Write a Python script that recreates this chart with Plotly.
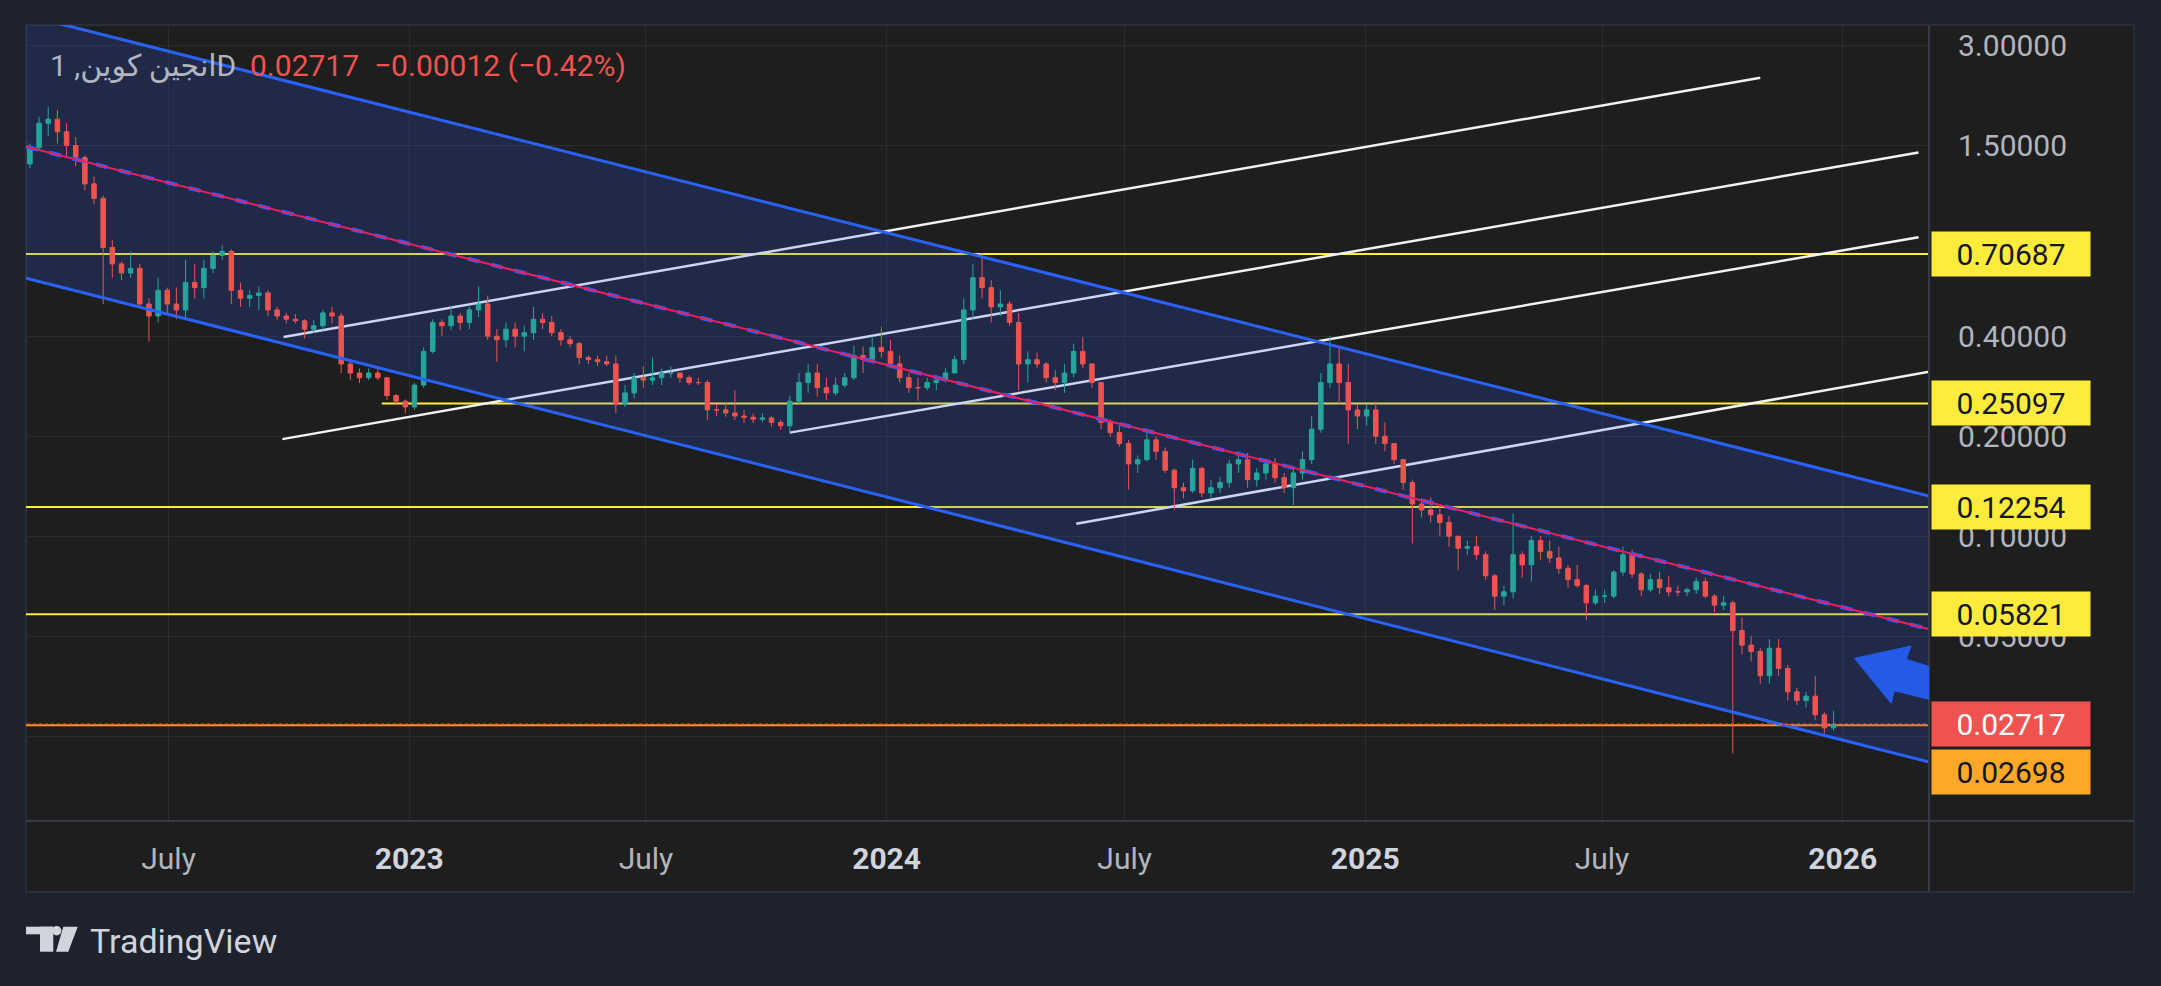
import numpy as np
import pandas as pd
import plotly.graph_objects as go

# weekly candles (ENJ, Mar 2022 - Dec 2025)
opens = [
    1.32, 1.48, 1.75, 1.80, 1.65, 1.50, 1.38, 1.15, 1.04, 0.74, 0.66, 0.62, 0.64, 0.50, 0.46, 0.55, 0.50, 0.48, 0.58, 0.56, 0.64,
    0.70, 0.72, 0.55, 0.52, 0.53, 0.54, 0.48, 0.46, 0.45, 0.445, 0.42, 0.43, 0.47, 0.46, 0.33, 0.31, 0.30, 0.31, 0.30, 0.265, 0.255,
    # 2023
    0.245, 0.285, 0.36, 0.44, 0.43, 0.46, 0.44, 0.48, 0.50, 0.40, 0.39, 0.42, 0.40, 0.41, 0.45, 0.44, 0.41, 0.39, 0.38, 0.345,
    0.34, 0.335, 0.33, 0.25, 0.27, 0.30, 0.295, 0.30, 0.31, 0.31, 0.30, 0.29, 0.29, 0.24, 0.24, 0.235, 0.23, 0.228, 0.225, 0.227,
    0.22, 0.215, 0.255, 0.29, 0.31, 0.28, 0.27, 0.285, 0.30, 0.35, 0.34, 0.37,
    # 2024
    0.36, 0.33, 0.30, 0.28, 0.28, 0.29, 0.295, 0.31, 0.34, 0.48, 0.60, 0.56, 0.49, 0.50, 0.44, 0.33, 0.34, 0.33, 0.30, 0.29,
    0.31, 0.36, 0.33, 0.29, 0.22, 0.205, 0.19, 0.165, 0.17, 0.195, 0.18, 0.158, 0.14, 0.137, 0.16, 0.135, 0.14, 0.145, 0.165, 0.17,
    0.148, 0.155, 0.165, 0.15, 0.14, 0.155, 0.17, 0.21, 0.29, 0.33, 0.29, 0.24, 0.23,
    # 2025
    0.24, 0.20, 0.19, 0.17, 0.145, 0.125, 0.12, 0.116, 0.11, 0.10, 0.092, 0.093, 0.088, 0.076, 0.066, 0.068, 0.088, 0.082, 0.097, 0.09,
    0.086, 0.08, 0.074, 0.071, 0.063, 0.066, 0.066, 0.078, 0.088, 0.077, 0.069, 0.074, 0.07, 0.068, 0.068, 0.069, 0.073, 0.066, 0.062, 0.063,
    0.052, 0.047, 0.045, 0.038, 0.046, 0.04, 0.034, 0.032, 0.033, 0.029, 0.0265,
]
highs = [
    1.52, 1.83, 1.96, 1.92, 1.75, 1.59, 1.40, 1.21, 1.06, 0.78, 0.67, 0.72, 0.66, 0.52, 0.60, 0.56, 0.56, 0.68, 0.66, 0.68, 0.72,
    0.75, 0.73, 0.58, 0.55, 0.565, 0.55, 0.49, 0.47, 0.467, 0.45, 0.447, 0.48, 0.49, 0.47, 0.335, 0.32, 0.32, 0.318, 0.30, 0.268, 0.258,
    0.29, 0.37, 0.45, 0.45, 0.49, 0.47, 0.49, 0.564, 0.53, 0.42, 0.44, 0.44, 0.43, 0.49, 0.47, 0.46, 0.42, 0.40, 0.385, 0.35,
    0.35, 0.35, 0.35, 0.285, 0.31, 0.325, 0.345, 0.32, 0.325, 0.31, 0.305, 0.30, 0.295, 0.25, 0.252, 0.275, 0.24, 0.234, 0.235, 0.23,
    0.224, 0.265, 0.31, 0.33, 0.33, 0.30, 0.30, 0.31, 0.375, 0.372, 0.40, 0.427,
    0.39, 0.35, 0.31, 0.30, 0.30, 0.305, 0.32, 0.35, 0.52, 0.66, 0.71, 0.59, 0.55, 0.51, 0.47, 0.36, 0.357, 0.335, 0.316, 0.33,
    0.38, 0.397, 0.33, 0.29, 0.225, 0.215, 0.195, 0.175, 0.205, 0.20, 0.185, 0.16, 0.145, 0.17, 0.162, 0.148, 0.151, 0.17, 0.18, 0.178,
    0.16, 0.17, 0.172, 0.155, 0.16, 0.18, 0.23, 0.31, 0.40, 0.37, 0.33, 0.25, 0.25,
    0.254, 0.22, 0.19, 0.17, 0.148, 0.13, 0.131, 0.125, 0.115, 0.10, 0.097, 0.10, 0.09, 0.077, 0.071, 0.117, 0.09, 0.10, 0.10, 0.097,
    0.093, 0.082, 0.082, 0.072, 0.069, 0.069, 0.079, 0.093, 0.091, 0.078, 0.077, 0.078, 0.076, 0.071, 0.07, 0.075, 0.075, 0.067, 0.066, 0.064,
    0.057, 0.05, 0.046, 0.049, 0.049, 0.041, 0.035, 0.034, 0.038, 0.0295, 0.0298,
]
lows = [
    1.28, 1.45, 1.60, 1.52, 1.38, 1.30, 1.10, 1.00, 0.50, 0.60, 0.59, 0.60, 0.49, 0.385, 0.44, 0.47, 0.45, 0.45, 0.52, 0.52, 0.62,
    0.68, 0.50, 0.49, 0.49, 0.48, 0.46, 0.447, 0.437, 0.437, 0.394, 0.41, 0.417, 0.437, 0.31, 0.295, 0.289, 0.295, 0.295, 0.257, 0.248, 0.234,
    0.24, 0.28, 0.355, 0.40, 0.417, 0.417, 0.42, 0.457, 0.39, 0.335, 0.37, 0.37, 0.36, 0.39, 0.42, 0.40, 0.375, 0.37, 0.33, 0.33,
    0.325, 0.325, 0.235, 0.245, 0.26, 0.28, 0.285, 0.285, 0.30, 0.29, 0.285, 0.285, 0.224, 0.23, 0.229, 0.224, 0.219, 0.219, 0.22, 0.214,
    0.209, 0.204, 0.25, 0.27, 0.263, 0.257, 0.265, 0.28, 0.295, 0.31, 0.335, 0.345,
    0.32, 0.29, 0.27, 0.256, 0.275, 0.275, 0.29, 0.31, 0.33, 0.45, 0.52, 0.44, 0.46, 0.43, 0.275, 0.29, 0.32, 0.29, 0.275, 0.27,
    0.30, 0.32, 0.28, 0.21, 0.199, 0.186, 0.138, 0.155, 0.168, 0.17, 0.155, 0.12, 0.13, 0.135, 0.131, 0.13, 0.135, 0.14, 0.155, 0.14,
    0.141, 0.148, 0.145, 0.135, 0.124, 0.148, 0.165, 0.205, 0.28, 0.25, 0.19, 0.21, 0.215,
    0.19, 0.18, 0.165, 0.138, 0.095, 0.114, 0.11, 0.10, 0.093, 0.079, 0.088, 0.085, 0.074, 0.06, 0.062, 0.065, 0.075, 0.073, 0.085, 0.083,
    0.077, 0.07, 0.07, 0.056, 0.062, 0.063, 0.065, 0.076, 0.075, 0.066, 0.068, 0.067, 0.066, 0.066, 0.066, 0.067, 0.065, 0.059, 0.06, 0.0222,
    0.044, 0.042, 0.036, 0.036, 0.038, 0.032, 0.031, 0.0305, 0.028, 0.0255, 0.026,
]
closes = [
    1.48, 1.75, 1.80, 1.65, 1.50, 1.38, 1.15, 1.04, 0.74, 0.66, 0.62, 0.64, 0.50, 0.46, 0.55, 0.50, 0.48, 0.58, 0.56, 0.64, 0.70,
    0.72, 0.55, 0.52, 0.53, 0.54, 0.48, 0.46, 0.45, 0.445, 0.42, 0.43, 0.47, 0.46, 0.33, 0.31, 0.30, 0.31, 0.30, 0.265, 0.255, 0.245,
    0.285, 0.36, 0.44, 0.43, 0.46, 0.44, 0.48, 0.50, 0.40, 0.39, 0.42, 0.40, 0.41, 0.45, 0.44, 0.41, 0.39, 0.38, 0.345, 0.34,
    0.335, 0.33, 0.25, 0.27, 0.30, 0.295, 0.30, 0.31, 0.31, 0.30, 0.29, 0.29, 0.24, 0.24, 0.235, 0.23, 0.228, 0.225, 0.227, 0.22,
    0.215, 0.255, 0.29, 0.31, 0.28, 0.27, 0.285, 0.30, 0.35, 0.34, 0.37, 0.36,
    0.33, 0.30, 0.28, 0.28, 0.29, 0.295, 0.31, 0.34, 0.48, 0.60, 0.56, 0.49, 0.50, 0.44, 0.33, 0.34, 0.33, 0.30, 0.29, 0.31,
    0.36, 0.33, 0.29, 0.22, 0.205, 0.19, 0.165, 0.17, 0.195, 0.18, 0.158, 0.14, 0.137, 0.16, 0.135, 0.14, 0.145, 0.165, 0.17, 0.148,
    0.155, 0.165, 0.15, 0.14, 0.155, 0.17, 0.21, 0.29, 0.33, 0.29, 0.24, 0.23, 0.24,
    0.20, 0.19, 0.17, 0.145, 0.125, 0.12, 0.116, 0.11, 0.10, 0.092, 0.093, 0.088, 0.076, 0.066, 0.068, 0.088, 0.082, 0.097, 0.09, 0.086,
    0.08, 0.074, 0.071, 0.063, 0.066, 0.066, 0.078, 0.088, 0.077, 0.069, 0.074, 0.07, 0.068, 0.068, 0.069, 0.073, 0.066, 0.062, 0.063, 0.052,
    0.047, 0.045, 0.038, 0.046, 0.04, 0.034, 0.032, 0.033, 0.029, 0.0265, 0.02717,
]
weeks = pd.date_range("2022-03-17", periods=len(closes), freq="7D")

# drawings on the chart
channel_dates = ["2022-03-14", "2026-03-09"]
channel_upper = [3.70, 0.1318]
channel_lower = [0.598, 0.02086]
channel_mid = [1.488, 0.0524]

white_starts = ["2022-09-27", "2022-09-26", "2023-10-19", "2024-05-25"]
white_ends = ["2025-10-30", "2026-02-28", "2026-02-28", "2026-03-09"]
white_start_prices = [0.398, 0.196, 0.205, 0.109]
white_end_prices = [2.40, 1.43, 0.794, 0.313]

level_prices = [0.70687, 0.25097, 0.12254, 0.05821]
level_starts = ["2022-03-01", "2022-12-11", "2022-03-01", "2022-03-01"]
level_end = "2026-03-31"
support_price = 0.02698
last_price = 0.02717

tag_values = [0.70687, 0.25097, 0.12254, 0.05821, 0.02717, 0.02698]
tag_colors = ["#ffeb3b", "#ffeb3b", "#ffeb3b", "#ffeb3b", "#ef5350", "#ffa726"]
tag_text_colors = ["#131722", "#131722", "#131722", "#131722", "#ffffff", "#131722"]
tag_shifts = [0, 0, 0, 0, 0, -47]

y_ticks = [3, 1.5, 0.4, 0.2, 0.1, 0.05, 0.025]
y_labels = ["3.00000", "1.50000", "0.40000", "0.20000", "0.10000", "0.05000", ""]
x_ticks = ["2022-07-01", "2023-01-01", "2023-07-01", "2024-01-01", "2024-07-01", "2025-01-01", "2025-07-01", "2026-01-01"]
x_labels = ["July", "2023", "July", "2024", "July", "2025", "July", "2026"]

arrow_tip_date = "2026-01-10"
arrow_tip_price = 0.0429

W, H = 2161, 986
L, R, T, B = 26, 1929, 25, 821


def px(xp):
    return (xp - L) / (R - L)


def py(yp):
    return (B - yp) / (B - T)


shapes = [
    # chart panel and separators
    dict(type="rect", xref="paper", yref="paper", x0=0, x1=px(2134), y0=py(892), y1=1,
         fillcolor="#1e1e1e", line=dict(color="#2a2e39", width=2), layer="below"),
    dict(type="line", xref="paper", yref="paper", x0=0, x1=px(2134), y0=0, y1=0,
         line=dict(color="#363a45", width=2)),
    dict(type="line", xref="paper", yref="paper", x0=1, x1=1, y0=py(892), y1=1,
         line=dict(color="#363a45", width=2)),
]

# horizontal levels and the rising parallel lines sit under the channel fill
for p, s in zip(level_prices, level_starts):
    shapes.append(dict(type="line", xref="x", yref="y", x0=s, x1=level_end, y0=p, y1=p,
                       line=dict(color="#ffeb3b", width=2), layer="between"))
shapes.append(dict(type="line", xref="x", yref="y", x0="2022-03-01", x1=level_end,
                   y0=support_price, y1=support_price, line=dict(color="#ff9800", width=2), layer="between"))
for s, e, p0, p1 in zip(white_starts, white_ends, white_start_prices, white_end_prices):
    shapes.append(dict(type="line", xref="x", yref="y", x0=s, x1=e, y0=p0, y1=p1,
                       line=dict(color="#f2f2f2", width=2.5), layer="between"))

# falling channel fill
d0, d1 = channel_dates
shapes.append(dict(type="path", xref="x", yref="y", layer="between",
                   path=f"M{d0},{channel_lower[0]} L{d1},{channel_lower[1]} L{d1},{channel_upper[1]} L{d0},{channel_upper[0]} Z",
                   fillcolor="rgba(41,98,255,0.19)", line=dict(width=0)))

# blue arrow pointing back to the channel middle
shapes.append(dict(type="path", xref="x", yref="y", xsizemode="pixel", ysizemode="pixel",
                   xanchor=arrow_tip_date, yanchor=arrow_tip_price,
                   path="M0,0 L56.7,12.3 L51.7,-1.0 L110,-19 L110,-50 L40,-32.4 L36.7,-45 Z",
                   fillcolor="#245ae6", line=dict(color="#245ae6", width=1)))

# TradingView logo
shapes += [
    dict(type="rect", xref="paper", yref="paper", x0=px(26), x1=px(53.3), y0=py(934.3), y1=py(926.7),
         fillcolor="#d1d4dc", line=dict(width=0)),
    dict(type="rect", xref="paper", yref="paper", x0=px(40), x1=px(53.3), y0=py(951.7), y1=py(926.7),
         fillcolor="#d1d4dc", line=dict(width=0)),
    dict(type="circle", xref="paper", yref="paper", x0=px(52), x1=px(61.4), y0=py(935.4), y1=py(926),
         fillcolor="#d1d4dc", line=dict(width=0)),
    dict(type="path", xref="paper", yref="paper",
         path=f"M{px(63.3)},{py(926.7)} L{px(77.7)},{py(926.7)} L{px(68.3)},{py(951.7)} L{px(56)},{py(951.7)} Z",
         fillcolor="#d1d4dc", line=dict(width=0)),
]

fig = go.Figure()

fig.add_trace(go.Candlestick(
    x=weeks, open=opens, high=highs, low=lows, close=closes,
    increasing=dict(line=dict(color="#26a69a", width=1), fillcolor="#26a69a"),
    decreasing=dict(line=dict(color="#ef5350", width=1), fillcolor="#ef5350"),
    whiskerwidth=0, hoverinfo="skip"))

fig.add_trace(go.Scatter(x=channel_dates, y=channel_lower, mode="lines",
                         line=dict(color="#2962ff", width=3), hoverinfo="skip"))
fig.add_trace(go.Scatter(x=channel_dates, y=channel_upper, mode="lines",
                         line=dict(color="#2962ff", width=3), hoverinfo="skip"))
fig.add_trace(go.Scatter(x=channel_dates, y=channel_mid, mode="lines",
                         line=dict(color="#2962ff", width=4, dash="dash"), hoverinfo="skip"))
fig.add_trace(go.Scatter(x=channel_dates, y=channel_mid, mode="lines",
                         line=dict(color="#e91e63", width=2), hoverinfo="skip"))
fig.add_trace(go.Scatter(x=["2022-03-01", level_end], y=[last_price, last_price], mode="lines",
                         line=dict(color="#ef5350", width=1.5, dash="dot"), hoverinfo="skip"))

annotations = [
    dict(xref="paper", yref="paper", x=px(48), y=py(66), xanchor="left", yanchor="middle",
         text="انجین کوین, 1D", showarrow=False, font=dict(size=30, color="#b2b5be")),
    dict(xref="paper", yref="paper", x=px(248), y=py(66), xanchor="left", yanchor="middle",
         text="0.02717&nbsp;&nbsp;−0.00012 (−0.42%)", showarrow=False, font=dict(size=30, color="#ef5350")),
    dict(xref="paper", yref="paper", x=px(88), y=py(941), xanchor="left", yanchor="middle",
         text="TradingView", showarrow=False, font=dict(size=34, color="#d1d4dc")),
]
for v, c, tc, sh in zip(tag_values, tag_colors, tag_text_colors, tag_shifts):
    annotations.append(dict(
        xref="paper", yref="y", x=px(1931), y=np.log10(v), xanchor="left", yanchor="middle",
        yshift=sh, text=f"{v:.5f}", showarrow=False, bgcolor=c, width=158, height=44, borderpad=0,
        align="center", font=dict(size=30, color=tc)))

x_text = [f"<span style='color:#d1d4dc'><b>{t}</b></span>" if t != "July" else t for t in x_labels]

fig.update_layout(
    width=W, height=H,
    margin=dict(l=L, r=W - R, t=T, b=H - B),
    paper_bgcolor="#1e222d", plot_bgcolor="#1e1e1e",
    font=dict(family="Roboto, Noto Sans, DejaVu Sans", color="#b2b5be", size=30),
    showlegend=False, hovermode=False,
    shapes=shapes, annotations=annotations,
    xaxis=dict(type="date", range=["2022-03-14", "2026-03-08"], rangeslider=dict(visible=False),
               tickvals=x_ticks, ticktext=x_text, showgrid=True, gridcolor="#2c2c2c", gridwidth=1,
               zeroline=False, showline=False, ticks="", ticklabelstandoff=17,
               tickfont=dict(size=30, color="#b2b5be")),
    yaxis=dict(type="log", side="right", range=[np.log10(0.01389), np.log10(3.458)],
               tickvals=y_ticks, ticktext=y_labels, showgrid=True, gridcolor="#2c2c2c", gridwidth=1,
               zeroline=False, showline=False, ticks="", ticklabelstandoff=28,
               tickfont=dict(size=30, color="#b2b5be")),
)

fig.write_html("out.html", config={"displayModeBar": False},
               post_script="document.body.style.margin='0px';document.body.style.overflow='hidden';")
